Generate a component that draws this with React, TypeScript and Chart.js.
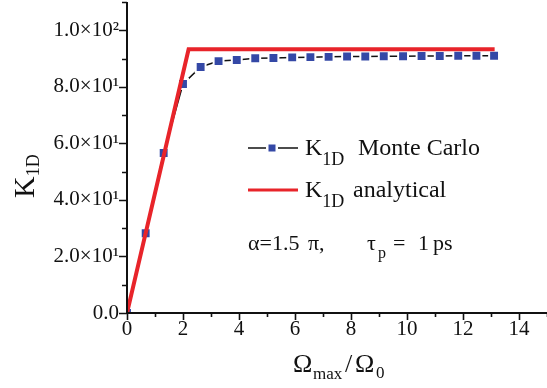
import React, { useEffect, useRef } from 'react';
import { Chart, registerables } from 'chart.js';

Chart.register(...registerables);

// Monte Carlo K_1D values
const mcX = [0, 0.667, 1.31, 2.0, 2.63, 3.27, 3.92, 4.58, 5.23, 5.9, 6.55, 7.2, 7.86, 8.51, 9.17, 9.86, 10.52, 11.17, 11.83, 12.48, 13.11];
const mcY = [0, 28.2, 56.6, 81.0, 87.0, 89.1, 89.5, 90.1, 90.2, 90.4, 90.5, 90.6, 90.7, 90.7, 90.8, 90.8, 90.9, 90.9, 91.0, 91.0, 91.0];
// Analytical K_1D
const anX = [0, 2.2, 13.13];
const anY = [0, 93.3, 93.3];

const xMax = 15;
const yMax = 110;
const xLabels: Record<number, string> = { 0: '0', 2: '2', 4: '4', 6: '6', 8: '8', 10: '10', 12: '12', 14: '14' };
const yLabels: Record<number, string> = {
  0: '0.0',
  20: '2.0×10¹',
  40: '4.0×10¹',
  60: '6.0×10¹',
  80: '8.0×10¹',
  100: '1.0×10²',
};

const SERIF = "'Liberation Serif', 'Times New Roman', serif";
const BLUE = '#3448a6';
const RED = '#e8242a';

function put(ctx: CanvasRenderingContext2D, s: string, x: number, y: number, size: number) {
  ctx.font = `${size}px ${SERIF}`;
  ctx.fillText(s, x, y);
  return ctx.measureText(s).width;
}

const decor = {
  id: 'decor',
  afterDraw(chart: any) {
    const ctx: CanvasRenderingContext2D = chart.ctx;
    const xs = chart.scales.x;
    const ys = chart.scales.y;
    const { left, right, top, bottom } = chart.chartArea;
    ctx.save();
    ctx.strokeStyle = '#111';
    ctx.fillStyle = '#111';
    // axes
    ctx.lineWidth = 2;
    ctx.beginPath();
    ctx.moveTo(left, top);
    ctx.lineTo(left, bottom);
    ctx.lineTo(right, bottom);
    ctx.stroke();
    // ticks
    ctx.lineWidth = 1.6;
    ctx.beginPath();
    for (let v = 0; v <= xMax; v += 1) {
      const px = Math.round(xs.getPixelForValue(v)) + 0.5;
      const len = v % 2 === 0 ? 7 : 4;
      ctx.moveTo(px, bottom);
      ctx.lineTo(px, bottom + len);
    }
    for (let v = 0; v <= yMax; v += 10) {
      const py = Math.round(ys.getPixelForValue(v)) + 0.5;
      const len = v % 20 === 0 ? 8 : 5;
      ctx.moveTo(left, py);
      ctx.lineTo(left - len, py);
    }
    ctx.stroke();

    ctx.textBaseline = 'alphabetic';
    ctx.textAlign = 'left';
    // x title
    put(ctx, 'Ω', 293, 372, 26);
    put(ctx, 'max', 313, 379, 17);
    put(ctx, '/', 345, 372, 26);
    put(ctx, 'Ω', 355, 372, 26);
    put(ctx, '0', 376, 378, 17);

    // y title (rotated)
    ctx.save();
    ctx.translate(34, 198);
    ctx.rotate(-Math.PI / 2);
    const kw = put(ctx, 'K', 0, 0, 30);
    put(ctx, '1D', kw, 5, 18);
    ctx.restore();

    // legend
    ctx.strokeStyle = '#111';
    ctx.lineWidth = 1.5;
    ctx.beginPath();
    ctx.moveTo(248, 148);
    ctx.lineTo(298, 148);
    ctx.stroke();
    ctx.fillStyle = '#fff';
    ctx.fillRect(266, 142, 12, 12);
    ctx.fillStyle = BLUE;
    ctx.fillRect(268.5, 144.5, 7, 7);
    ctx.strokeStyle = RED;
    ctx.lineWidth = 3;
    ctx.beginPath();
    ctx.moveTo(248, 190);
    ctx.lineTo(298, 190);
    ctx.stroke();

    ctx.fillStyle = '#111';
    let w = put(ctx, 'K', 305, 155, 24);
    put(ctx, '1D', 305 + w, 165, 18);
    put(ctx, 'Monte Carlo', 358, 155, 24);
    w = put(ctx, 'K', 305, 197, 24);
    put(ctx, '1D', 305 + w, 207, 18);
    put(ctx, 'analytical', 353, 197, 24);

    put(ctx, 'α=1.5', 248, 250, 22);
    put(ctx, 'π,', 308, 250, 22);
    put(ctx, 'τ', 367, 250, 22);
    put(ctx, 'p', 378, 258, 16);
    put(ctx, '=', 393, 250, 22);
    put(ctx, '1', 418, 250, 22);
    put(ctx, 'ps', 433, 250, 22);
    ctx.restore();
  },
};

export default function App() {
  const ref = useRef<HTMLCanvasElement | null>(null);
  useEffect(() => {
    if (!ref.current) return;
    const tickFont = { family: SERIF, size: 21 };
    const chart = new Chart(ref.current, {
      type: 'line',
      data: {
        datasets: [
          {
            label: 'K1D analytical',
            data: anX.map((x, i) => ({ x, y: anY[i] })),
            borderColor: RED,
            borderWidth: 4,
            pointRadius: 0,
            fill: false,
            tension: 0,
            order: 0,
          },
          {
            label: 'K1D Monte Carlo',
            data: mcX.map((x, i) => ({ x, y: mcY[i] })),
            borderColor: '#111',
            borderWidth: 1.5,
            pointStyle: 'rect',
            pointRadius: 7,
            pointBackgroundColor: BLUE,
            pointBorderColor: '#ffffff',
            pointBorderWidth: 2,
            fill: false,
            tension: 0,
            order: 1,
          },
        ],
      },
      options: {
        responsive: false,
        animation: false,
        devicePixelRatio: 1,
        events: [],
        layout: { autoPadding: false, padding: { top: 2, right: 0, left: 0, bottom: 0 } },
        plugins: { legend: { display: false }, tooltip: { enabled: false } },
        scales: {
          x: {
            type: 'linear',
            min: 0,
            max: xMax,
            afterFit: (s: any) => {
              s.height = 75;
              s.paddingLeft = 0;
              s.paddingRight = 0;
            },
            grid: { display: false, drawTicks: false },
            border: { display: false },
            ticks: {
              stepSize: 1,
              autoSkip: false,
              maxRotation: 0,
              padding: 4,
              color: '#111',
              font: tickFont,
              callback: (v: any) => xLabels[v as number] ?? '',
            },
          },
          y: {
            type: 'linear',
            min: 0,
            max: yMax,
            afterFit: (s: any) => {
              s.width = 127;
              s.paddingTop = 0;
              s.paddingBottom = 0;
            },
            grid: { display: false, drawTicks: false },
            border: { display: false },
            ticks: {
              stepSize: 10,
              autoSkip: false,
              padding: 8,
              color: '#111',
              font: tickFont,
              callback: (v: any) => yLabels[v as number] ?? '',
            },
          },
        },
      },
      plugins: [decor],
    } as any);
    return () => chart.destroy();
  }, []);
  return (
    <div style={{ position: 'fixed', left: 0, top: 0, width: 547, height: 388, background: '#fff' }}>
      <canvas ref={ref} width={547} height={388} style={{ display: 'block' }} />
    </div>
  );
}
